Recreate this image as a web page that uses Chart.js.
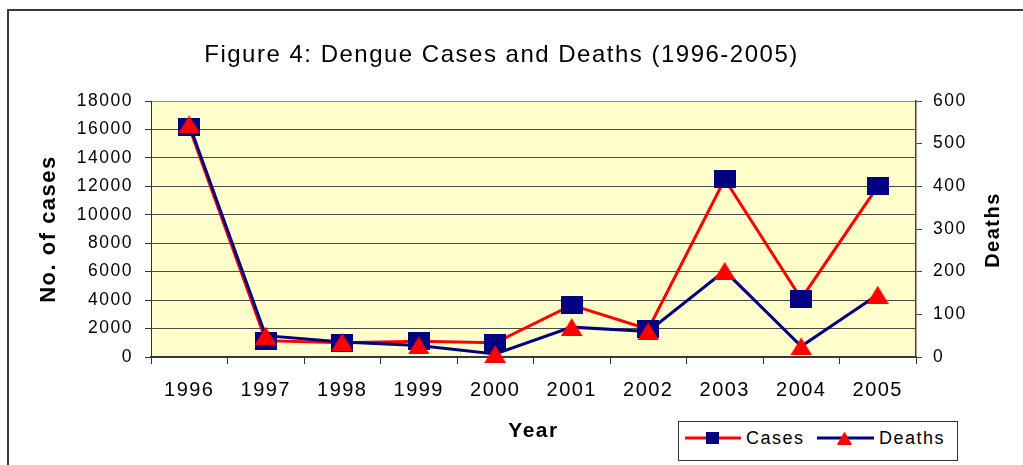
<!DOCTYPE html>
<html>
<head>
<meta charset="utf-8">
<script src="https://cdn.jsdelivr.net/npm/chart.js@4.4.0/dist/chart.umd.min.js"></script>
<style>
  html, body { margin: 0; padding: 0; background: #fff; overflow: hidden; }
  #wrap { position: relative; width: 1023px; height: 465px; }
  #frame { position: absolute; left: 7px; top: 9px; width: 1100px; height: 600px; border: 2px solid #3a3a3a; box-sizing: border-box; }
  #chart { position: absolute; left: 0; top: 0; }
  #legendBox { position: absolute; left: 678px; top: 421px; width: 280px; height: 40px; border: 1.5px solid #333; box-sizing: border-box; background: #fff; }
  .lg-icon { position: absolute; }
  .lg-text { position: absolute; font: 18px "Liberation Sans", Arial, sans-serif; letter-spacing: 1.5px; line-height: 20px; color: #000; white-space: nowrap; }
</style>
</head>
<body>
<div id="wrap">
  <div id="frame"></div>
  <canvas id="chart" width="1023" height="465"></canvas>
  <div id="legendBox"></div>
  <canvas class="lg-icon" id="iconCases" width="56" height="14" style="left:685px;top:431px"></canvas>
  <span class="lg-text" style="left:746px;top:428px">Cases</span>
  <canvas class="lg-icon" id="iconDeaths" width="57" height="14" style="left:817px;top:431px"></canvas>
  <span class="lg-text" style="left:879px;top:428px">Deaths</span>
</div>
<script>
const years = ['1996', '1997', '1998', '1999', '2000', '2001', '2002', '2003', '2004', '2005'];
const cases = [16150, 1150, 1000, 1100, 1000, 3650, 1950, 12500, 4100, 12000];
const deaths = [545, 50, 35, 27, 7, 70, 60, 202, 25, 146];

const FONT = '"Liberation Sans", Arial, sans-serif';
const RED = '#FF0000';
const NAVY = '#000080';

// marker pictures (Excel markers are a bit wider than tall here)
function squareMarker(w, h, color) {
  const c = document.createElement('canvas');
  c.width = w; c.height = h;
  const g = c.getContext('2d');
  g.fillStyle = color;
  g.fillRect(0, 0, w, h);
  return c;
}
function triangleMarker(w, h, color) {
  const c = document.createElement('canvas');
  c.width = w; c.height = h;
  const g = c.getContext('2d');
  g.fillStyle = color;
  g.beginPath();
  g.moveTo(w / 2, 0);
  g.lineTo(w, h);
  g.lineTo(0, h);
  g.closePath();
  g.fill();
  return c;
}

function legendIcon(id, lineColor, marker, mx) {
  const c = document.getElementById(id);
  const g = c.getContext('2d');
  g.strokeStyle = lineColor;
  g.lineWidth = 3;
  g.beginPath();
  g.moveTo(0, 7);
  g.lineTo(c.width, 7);
  g.stroke();
  g.drawImage(marker, mx, 7 - marker.height / 2);
}

const squareImg = squareMarker(22, 18, NAVY);
const triImg = triangleMarker(22, 18, RED);
legendIcon('iconCases', RED, squareMarker(13, 12, NAVY), 21);
legendIcon('iconDeaths', NAVY, triangleMarker(15, 13, RED), 20);

const plotDecor = {
  id: 'plotDecor',
  beforeDraw(chart) {
    const { ctx, chartArea: a } = chart;
    ctx.letterSpacing = '1.5px';
    ctx.save();
    ctx.fillStyle = '#FFFFCC';
    ctx.fillRect(a.left, a.top, a.right - a.left, a.bottom - a.top);
    ctx.restore();
  },
  afterDraw(chart) {
    // right axis title reads bottom-to-top like the left one
    const ctx = chart.ctx;
    const s = chart.scales.y1;
    ctx.save();
    ctx.translate(s.right - 10, (s.top + s.bottom) / 2 + 1);
    ctx.rotate(-Math.PI / 2);
    ctx.font = 'bold 20px ' + FONT;
    ctx.fillStyle = '#000';
    ctx.textAlign = 'center';
    ctx.textBaseline = 'middle';
    ctx.fillText('Deaths', 0, 0);
    ctx.restore();
  }
};

const plain = v => String(v);

new Chart(document.getElementById('chart'), {
  type: 'line',
  data: {
    labels: years,
    datasets: [
      {
        label: 'Cases',
        data: cases,
        yAxisID: 'y',
        borderColor: RED,
        backgroundColor: NAVY,
        borderWidth: 3,
        pointStyle: squareImg,
        order: 1,
        clip: false
      },
      {
        label: 'Deaths',
        data: deaths,
        yAxisID: 'y1',
        borderColor: NAVY,
        backgroundColor: RED,
        borderWidth: 3,
        pointStyle: triImg,
        order: 0,
        clip: false
      }
    ]
  },
  options: {
    responsive: false,
    animation: false,
    events: [],
    layout: { padding: { right: 20 } },
    plugins: {
      legend: { display: false },
      tooltip: { enabled: false },
      title: {
        display: true,
        text: 'Figure 4: Dengue Cases and Deaths (1996-2005)',
        color: '#000',
        font: { family: FONT, size: 24, weight: 'normal' },
        padding: { top: 40.6, bottom: 31.6 }
      }
    },
    scales: {
      x: {
        offset: true,
        grid: { offset: true, drawOnChartArea: false, tickLength: 7, color: '#333' },
        border: { color: '#333', width: 1.5 },
        ticks: { color: '#000', font: { family: FONT, size: 20 }, padding: 14, maxRotation: 0, autoSkip: false },
        title: {
          display: true,
          text: 'Year',
          color: '#000',
          font: { family: FONT, size: 21, weight: 'bold' },
          padding: { top: 10, bottom: 21 }
        },
        afterFit: s => { s.height = 108; }
      },
      y: {
        position: 'left',
        min: 0,
        max: 18000,
        ticks: { stepSize: 2000, padding: 12, color: '#000', font: { family: FONT, size: 17.5 }, callback: plain },
        grid: {
          color: c => (c.tick && c.tick.value === 18000 ? '#8c8c8c' : '#4a4a4a'),
          tickColor: '#333',
          tickLength: 6
        },
        border: { color: '#333', width: 1 },
        title: {
          display: true,
          text: 'No. of cases',
          color: '#000',
          font: { family: FONT, size: 22, weight: 'bold' },
          padding: { top: 36 }
        },
        afterFit: s => { s.width = 151; }
      },
      y1: {
        position: 'right',
        min: 0,
        max: 600,
        ticks: { stepSize: 100, padding: 11, color: '#000', font: { family: FONT, size: 17.5 }, callback: plain },
        grid: { drawOnChartArea: false, tickLength: 6, color: '#444' },
        border: { color: '#444', width: 1.5 },
        afterFit: s => { s.width = 87; }
      }
    }
  },
  plugins: [plotDecor]
});
</script>
</body>
</html>
